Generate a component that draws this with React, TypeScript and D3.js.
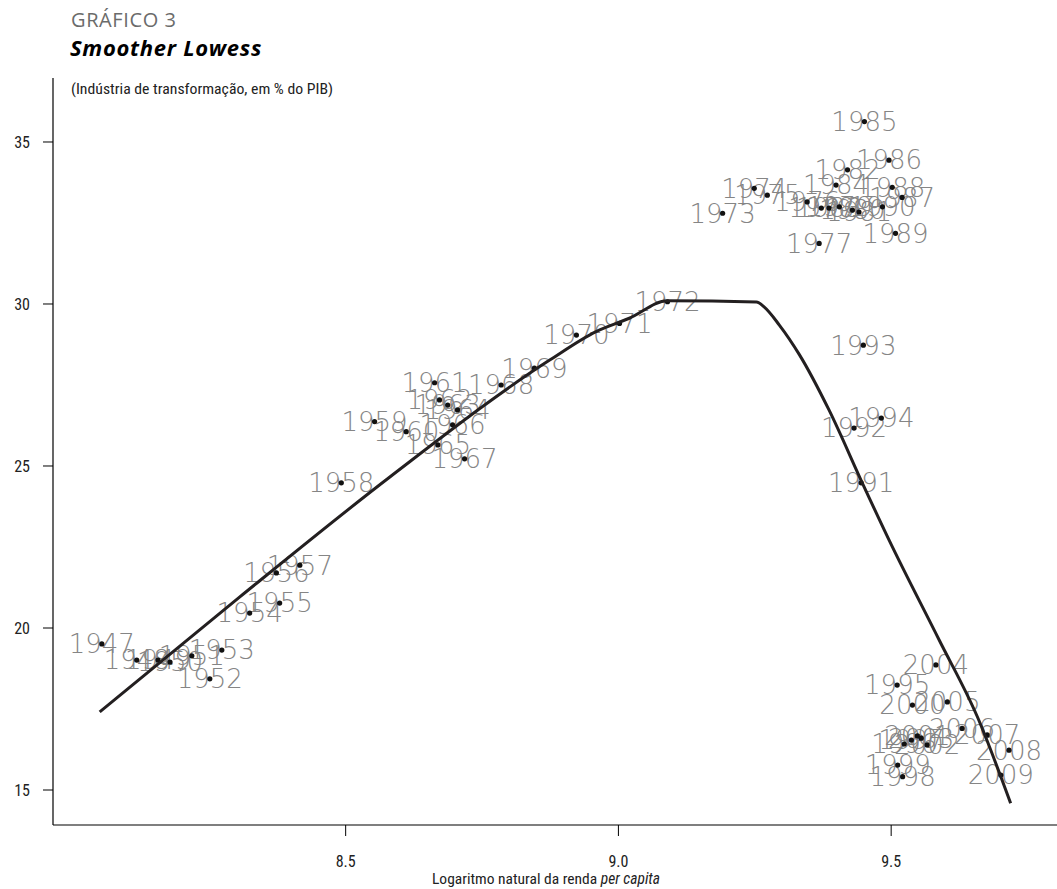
import React from 'react';
import * as d3 from 'd3';

// Brazil: manufacturing share of GDP vs ln(GDP per capita), 1947-2009
const years = [
  1947, 1948, 1949, 1950, 1951, 1952, 1953, 1954, 1955, 1956, 1957, 1958, 1959, 1960,
  1961, 1962, 1963, 1964, 1965, 1966, 1967, 1968, 1969, 1970, 1971, 1972, 1973, 1974,
  1975, 1976, 1977, 1978, 1979, 1980, 1981, 1982, 1983, 1984, 1985, 1986, 1987, 1988,
  1989, 1990, 1991, 1992, 1993, 1994, 1995, 1996, 1997, 1998, 1999, 2000, 2001, 2002,
  2003, 2004, 2005, 2006, 2007, 2008, 2009,
];

const logIncome = [
  8.053, 8.117, 8.156, 8.178, 8.218, 8.251, 8.273, 8.324, 8.379, 8.373, 8.416, 8.492, 8.553, 8.611,
  8.663, 8.672, 8.687, 8.705, 8.669, 8.696, 8.718, 8.785, 8.846, 8.923, 9.002, 9.090, 9.191, 9.249,
  9.273, 9.346, 9.368, 9.372, 9.405, 9.429, 9.441, 9.420, 9.386, 9.399, 9.451, 9.496, 9.520, 9.502,
  9.508, 9.484, 9.445, 9.432, 9.449, 9.482, 9.511, 9.524, 9.537, 9.521, 9.512, 9.539, 9.548, 9.566,
  9.555, 9.582, 9.603, 9.630, 9.676, 9.716, 9.701,
];

const manufShare = [
  19.51, 19.01, 19.01, 18.95, 19.14, 18.43, 19.32, 20.46, 20.77, 21.70, 21.94, 24.48, 26.37, 26.06,
  27.57, 27.04, 26.88, 26.73, 25.65, 26.27, 25.22, 27.50, 28.02, 29.04, 29.40, 30.07, 32.80, 33.57,
  33.36, 33.15, 31.87, 32.96, 33.00, 32.90, 32.84, 34.14, 32.96, 33.67, 35.63, 34.44, 33.29, 33.60,
  32.18, 33.00, 24.48, 26.17, 28.73, 26.48, 18.24, 16.42, 16.54, 15.41, 15.77, 17.62, 16.67, 16.39,
  16.60, 18.86, 17.72, 16.90, 16.70, 16.23, 15.46,
];

// lowess smoother
const lowessX = [
  8.049, 8.306, 8.581, 8.874, 8.959, 9.020, 9.090, 9.253, 9.267, 9.295, 9.332, 9.386, 9.447,
  9.496, 9.588, 9.658, 9.719,
];
const lowessY = [
  17.41, 20.96, 24.66, 28.27, 29.15, 29.56, 30.10, 30.06, 29.91, 29.35, 28.43, 26.73, 24.48,
  22.72, 19.63, 17.26, 14.59,
];

const xTicks = [8.5, 9.0, 9.5];
const yTicks = [15, 20, 25, 30, 35];

const W = 1057;
const H = 889;
const margin = { top: 78, right: 0, bottom: 64, left: 53 };

const condensed = "'Liberation Sans Narrow', 'Roboto Condensed', 'Open Sans', sans-serif";

export default function App() {
  const x = d3.scaleLinear().domain([7.9635, 9.804]).range([margin.left, W - margin.right]);
  const y = d3.scaleLinear().domain([13.92, 36.975]).range([H - margin.bottom, margin.top]);

  const points = years.map((yr, i) => ({ yr, lx: logIncome[i], sh: manufShare[i] }));
  const smooth = lowessX.map((v, i) => [v, lowessY[i]] as [number, number]);

  const line = d3.line<[number, number]>()
    .x(d => x(d[0]))
    .y(d => y(d[1]))
    .curve(d3.curveMonotoneX);

  const baseY = H - margin.bottom;

  return (
    <svg width={W} height={H} style={{ position: 'absolute', left: 0, top: 0, background: '#fff' }}>
      {/* titles */}
      <text x={71} y={27} fontFamily="'Open Sans', sans-serif" fontSize={20} fill="#6b6b6b" letterSpacing={0.6}>
        GRÁFICO 3
      </text>
      <text x={70} y={56} fontFamily="'Open Sans', sans-serif" fontSize={22} fontWeight="bold" fontStyle="italic" fill="#000" letterSpacing={0.7}>
        Smoother Lowess
      </text>
      <text x={71} y={94} fontFamily={condensed} fontSize={14} fill="#222" textLength={262} lengthAdjust="spacingAndGlyphs">
        (Indústria de transformação, em % do PIB)
      </text>

      {/* year labels */}
      <g fontFamily="'DejaVu Sans', sans-serif" fontWeight={200} fontSize={26} fill="#858585" textAnchor="middle">
        {points.map(p => (
          <text key={'l' + p.yr} x={x(p.lx)} y={y(p.sh)} dy="0.36em">{p.yr}</text>
        ))}
      </g>

      {/* markers */}
      <g fill="#111">
        {points.map(p => (
          <circle key={'c' + p.yr} cx={x(p.lx)} cy={y(p.sh)} r={2.6} />
        ))}
      </g>

      {/* lowess line */}
      <path d={line(smooth) || ''} fill="none" stroke="#231f20" strokeWidth={3} strokeLinejoin="round" />

      {/* axes */}
      <line x1={margin.left} x2={margin.left} y1={margin.top} y2={baseY} stroke="#000" strokeWidth={1.2} />
      <line x1={margin.left} x2={W} y1={baseY} y2={baseY} stroke="#000" strokeWidth={1.2} />
      {yTicks.map(t => (
        <g key={'yt' + t}>
          <line x1={margin.left - 10} x2={margin.left} y1={y(t)} y2={y(t)} stroke="#000" strokeWidth={1} />
          <text x={30} y={y(t)} dy="0.35em" textAnchor="end" fontFamily={condensed} fontSize={16} fill="#222">
            {t}
          </text>
        </g>
      ))}
      {xTicks.map(t => (
        <g key={'xt' + t}>
          <line x1={x(t)} x2={x(t)} y1={baseY} y2={baseY + 11} stroke="#000" strokeWidth={1} />
          <text x={x(t)} y={867} textAnchor="middle" fontFamily={condensed} fontSize={16} fill="#222">
            {t.toFixed(1)}
          </text>
        </g>
      ))}
      <text x={546} y={884} textAnchor="middle" fontFamily={condensed} fontSize={15.5} fill="#222">
        Logaritmo natural da renda <tspan fontStyle="italic">per capita</tspan>
      </text>
    </svg>
  );
}
